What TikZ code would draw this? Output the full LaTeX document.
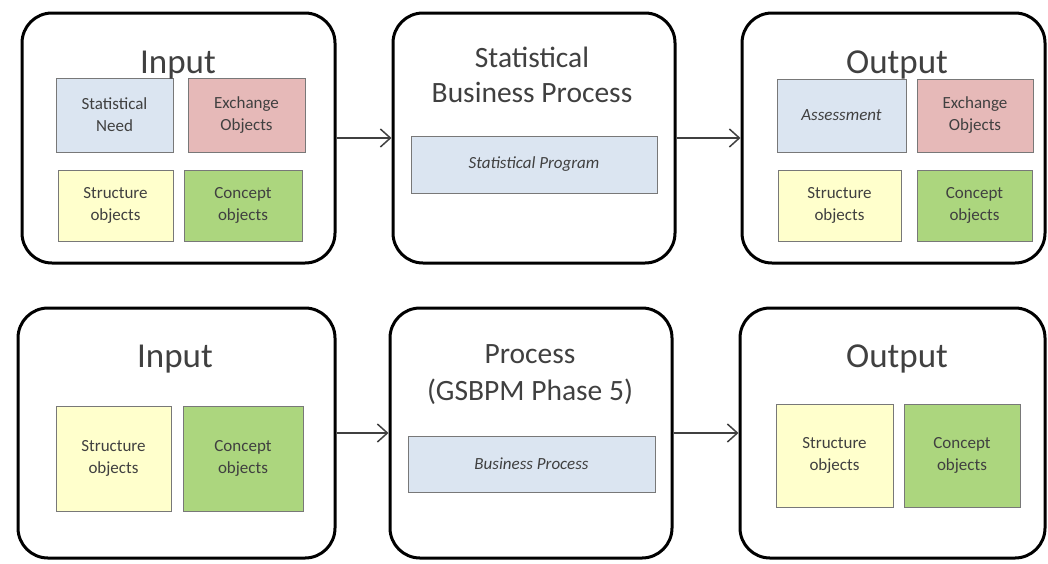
\documentclass[tikz,border=0pt]{standalone}
\usepackage{fontspec}
\setmainfont{Carlito}
\usetikzlibrary{arrows.meta}
\definecolor{cblue}{RGB}{219,229,241}
\definecolor{cred}{RGB}{230,185,184}
\definecolor{cyel}{RGB}{255,255,204}
\definecolor{cgreen}{RGB}{172,214,126}
\definecolor{ctext}{RGB}{64,64,64}
\definecolor{cborder}{RGB}{120,120,120}
\tikzset{
  outerbox/.style={draw=black, line width=3pt, rounded corners=30pt, fill=white, inner sep=0pt},
  innerbox/.style={draw=cborder, line width=1pt, inner sep=0pt, align=center, text=ctext,
    font=\fontsize{17}{22}\selectfont},
  bigtitle/.style={anchor=base, text=ctext, font=\fontsize{35}{40}\selectfont, inner sep=0pt},
  midtitle/.style={anchor=base, text=ctext, font=\fontsize{29.5}{36}\selectfont, inner sep=0pt, align=center},
  flow/.style={draw=ctext, line width=1.5pt, -{Straight Barb[length=10pt,width=18pt,line width=1.5pt]}},
  box/.style n args={2}{minimum width=#1pt, minimum height=#2pt}
}
\begin{document}
\begin{tikzpicture}[x=1pt,y=-1pt]
\useasboundingbox (0,0) rectangle (1048,563);
% ---------- top row ----------
\node[outerbox, box={313}{250}] (tin) at (178.5,138) {};
\node[outerbox, box={282}{250}] (tproc) at (534,138) {};
\node[outerbox, box={303}{250}] (tout) at (893.5,138) {};

\node[innerbox, fill=cblue, box={117}{74}] (tsn) at (114.5,115) {Statistical\\Need};
\node[innerbox, fill=cred, box={117}{74}] (tex) at (246.5,115) {Exchange\\Objects};
\node[innerbox, fill=cyel, box={115}{71}] (tst) at (115.5,205.5) {Structure\\objects};
\node[innerbox, fill=cgreen, box={118}{71}] (tco) at (243,205.5) {Concept\\objects};

\node[innerbox, fill=cblue, box={246}{57}] (tsp) at (534,164.5) {\itshape Statistical Program};

\node[innerbox, fill=cblue, box={129}{73}] (tas) at (841.5,115.5) {\itshape Assessment};
\node[innerbox, fill=cred, box={116}{73}] (tex2) at (975,115.5) {Exchange\\Objects};
\node[innerbox, fill=cyel, box={123}{71}] (tst2) at (839.5,205.5) {Structure\\objects};
\node[innerbox, fill=cgreen, box={115}{71}] (tco2) at (974.5,205.5) {Concept\\objects};

\node[bigtitle] (tinT) at (178,73) {Input};
\node[midtitle] (tprocT1) at (532,67) {Statistical};
\node[midtitle] (tprocT2) at (532,102) {Business Process};
\node[bigtitle] (toutT) at (897,73) {Output};

\draw[flow] (tin.east) -- (tproc.west);
\draw[flow] (tproc.east) -- (tout.west);

% ---------- bottom row ----------
\node[outerbox, box={317}{250}] (bin) at (176.5,433) {};
\node[outerbox, box={282}{250}] (bproc) at (531,433) {};
\node[outerbox, box={305}{250}] (bout) at (892.5,433) {};

\node[bigtitle] (binT) at (175,367) {Input};
\node[midtitle] (bprocT1) at (530,363) {Process};
\node[midtitle] (bprocT2) at (530,400) {(GSBPM Phase 5)};
\node[bigtitle] (boutT) at (897,367) {Output};

\node[innerbox, fill=cyel, box={115}{105}] (bst) at (113.5,458.5) {Structure\\objects};
\node[innerbox, fill=cgreen, box={120}{105}] (bco) at (243,458.5) {Concept\\objects};

\node[innerbox, fill=cblue, box={247}{56}] (bbp) at (531.5,464) {\itshape Business Process};

\node[innerbox, fill=cyel, box={117}{103}] (bst2) at (834.5,455.5) {Structure\\objects};
\node[innerbox, fill=cgreen, box={116}{103}] (bco2) at (962,455.5) {Concept\\objects};

\draw[flow] (bin.east) -- (bproc.west);
\draw[flow] (bproc.east) -- (bout.west);
\end{tikzpicture}
\end{document}
